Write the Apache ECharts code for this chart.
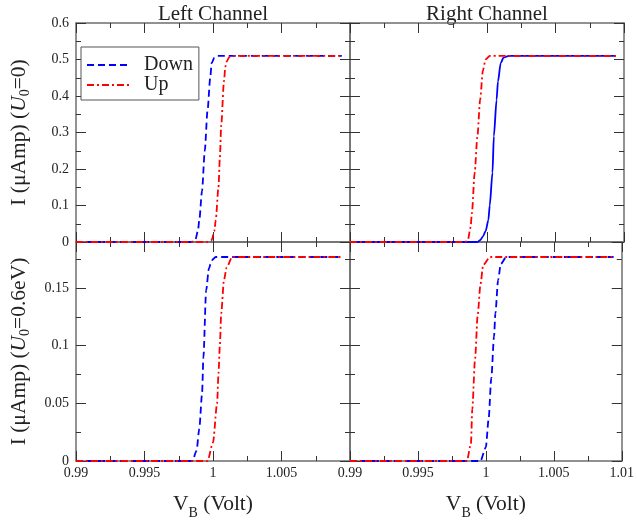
<!DOCTYPE html>
<html>
<head>
<meta charset="utf-8">
<script src="https://cdn.jsdelivr.net/npm/echarts@6/dist/echarts.min.js"></script>
<style>
  html, body { margin: 0; padding: 0; background: #fff; }
  #main { width: 637px; height: 521px; }
</style>
</head>
<body>
<div id="main"></div>
<script>
// axis ranges and ticks
const xMin = 0.99, xMax = 1.01, xMajor = 0.005, xMinor = 0.0025;
const yTopMax = 0.6, yTopMajor = 0.1, yTopMinor = 0.05;
const yBotMax = 0.19, yBotMajor = 0.05, yBotMinor = 0.025;

// top-left: Left Channel, U0 = 0
const tlDownX = [0.99, 0.9984, 0.9987, 0.9989, 0.9990, 0.9992, 0.9994, 0.9996, 0.9998, 0.9999, 1.0001, 1.0003, 1.0094];
const tlDownY = [0, 0, 0.005, 0.03, 0.06, 0.14, 0.25, 0.36, 0.45, 0.49, 0.505, 0.51, 0.51];
const tlUpX = [0.99, 0.9996, 0.9999, 1.0001, 1.0002, 1.0004, 1.0005, 1.0006, 1.0008, 1.0009, 1.0010, 1.0012, 1.0014, 1.0094];
const tlUpY = [0, 0, 0.005, 0.03, 0.06, 0.15, 0.23, 0.32, 0.44, 0.48, 0.495, 0.507, 0.51, 0.51];

// top-right: Right Channel, U0 = 0
const trDownX = [0.99, 0.9993, 0.9995, 0.9997, 0.9999, 1.0001, 1.0002, 1.0004, 1.0005, 1.0007, 1.0008, 1.0010, 1.0012, 1.0016, 1.0094];
const trDownY = [0, 0, 0.005, 0.015, 0.03, 0.06, 0.1, 0.19, 0.29, 0.39, 0.44, 0.49, 0.505, 0.51, 0.51];
const trUpX = [0.99, 0.9984, 0.9986, 0.9988, 0.9989, 0.9991, 0.9993, 0.9995, 0.9997, 0.9999, 1.0002, 1.0094];
const trUpY = [0, 0, 0.005, 0.04, 0.08, 0.19, 0.29, 0.39, 0.47, 0.5, 0.51, 0.51];

// bottom-left: Left Channel, U0 = 0.6eV
const blDownX = [0.99, 0.9985, 0.9988, 0.9990, 0.9992, 0.9993, 0.9995, 0.9997, 0.9999, 1.0002, 1.0094];
const blDownY = [0, 0, 0.009, 0.028, 0.058, 0.09, 0.148, 0.167, 0.174, 0.177, 0.177];
const blUpX = [0.99, 0.9996, 1.0000, 1.0003, 1.0004, 1.0005, 1.0006, 1.0008, 1.0010, 1.0014, 1.0094];
const blUpY = [0, 0, 0.016, 0.05, 0.076, 0.1, 0.128, 0.157, 0.168, 0.177, 0.177];

// bottom-right: Right Channel, U0 = 0.6eV
const brDownX = [0.99, 0.9996, 1.0000, 1.0002, 1.0004, 1.0006, 1.0007, 1.0009, 1.0011, 1.0015, 1.0094];
const brDownY = [0, 0, 0.012, 0.036, 0.072, 0.108, 0.128, 0.157, 0.171, 0.177, 0.177];
const brUpX = [0.99, 0.9986, 0.9989, 0.9990, 0.9992, 0.9994, 0.9996, 0.9998, 1.0003, 1.0094];
const brUpY = [0, 0, 0.015, 0.045, 0.088, 0.127, 0.153, 0.17, 0.177, 0.177];

const serif = "'Liberation Serif', 'DejaVu Serif', serif";
const frameColor = '#6e6e6e';
const tickColor = '#333';
const blue = '#0000ff', red = '#ff0000';
const dashed = [7, 4], dashDot = [7, 3, 2, 3];

const grids = [
  { left: 76, top: 23, width: 274, height: 219 },
  { left: 350, top: 23, width: 274, height: 219 },
  { left: 76, top: 242, width: 274, height: 219 },
  { left: 350, top: 242, width: 274, height: 219 }
];

const xAxes = [], yAxes = [];

function fmt(v) { return String(+v.toFixed(4)); }

// major axis (line + long ticks + labels) plus a minor axis (short ticks) on same side
function addAxes(list, gi, pos, min, max, major, minor, label, extra) {
  const idx = list.length;
  list.push(Object.assign({
    type: 'value', gridIndex: gi, position: pos, min: min, max: max, interval: major,
    axisLine: { show: true, onZero: false, lineStyle: { color: frameColor, width: 1.5 } },
    axisTick: { show: true, inside: true, length: 10, lineStyle: { color: tickColor, width: 1 } },
    axisLabel: label
      ? Object.assign({ show: true, fontFamily: serif, fontSize: 14, color: '#222', formatter: fmt }, label)
      : { show: false },
    splitLine: { show: false }
  }, extra || {}));
  list.push({
    type: 'value', gridIndex: gi, position: pos, min: min, max: max, interval: minor,
    axisLine: { show: false, onZero: false },
    axisTick: { show: true, inside: true, length: 5, lineStyle: { color: tickColor, width: 1 } },
    axisLabel: { show: false },
    splitLine: { show: false }
  });
  return idx;
}

const xName = {
  name: '{m|V}{s|B}{m| (Volt)}',
  nameLocation: 'middle',
  nameGap: 27,
  nameTextStyle: {
    color: '#222',
    rich: {
      m: { fontFamily: serif, fontSize: 21.5, lineHeight: 32, color: '#222' },
      s: { fontFamily: serif, fontSize: 14, lineHeight: 12, verticalAlign: 'bottom', color: '#222' }
    }
  }
};

function yName(txt) {
  return {
    name: '{m|I (μAmp) (}{i|U}{s|0}{m|' + txt + ')}',
    nameLocation: 'middle',
    nameRotate: 90,
    nameGap: 44,
    nameTextStyle: {
      color: '#222',
      rich: {
        m: { fontFamily: serif, fontSize: 21.5, lineHeight: 25, color: '#222' },
        i: { fontFamily: serif, fontSize: 21.5, lineHeight: 25, fontStyle: 'italic', color: '#222' },
        s: { fontFamily: serif, fontSize: 14, lineHeight: 12, verticalAlign: 'bottom', color: '#222' }
      }
    }
  };
}

const panels = [
  { top: true, left: true, yMax: yTopMax, yMajor: yTopMajor, yMinor: yTopMinor, yTitle: '=0',
    lines: [['Down', tlDownX, tlDownY, blue, dashed], ['Up', tlUpX, tlUpY, red, dashDot]] },
  { top: true, left: false, yMax: yTopMax, yMajor: yTopMajor, yMinor: yTopMinor,
    lines: [['Down', trDownX, trDownY, blue, 'solid'], ['Up', trUpX, trUpY, red, dashDot]] },
  { top: false, left: true, yMax: yBotMax, yMajor: yBotMajor, yMinor: yBotMinor, yTitle: '=0.6eV',
    lines: [['Down', blDownX, blDownY, blue, dashed], ['Up', blUpX, blUpY, red, dashDot]] },
  { top: false, left: false, yMax: yBotMax, yMajor: yBotMajor, yMinor: yBotMinor,
    lines: [['Down', brDownX, brDownY, blue, dashed], ['Up', brUpX, brUpY, red, dashDot]] }
];

const series = [];

panels.forEach(function (p, gi) {
  const xLabel = p.top ? null : { margin: 5, showMaxLabel: p.left ? false : true };
  const xi = addAxes(xAxes, gi, 'bottom', xMin, xMax, xMajor, xMinor, xLabel, p.top ? null : xName);
  addAxes(xAxes, gi, 'top', xMin, xMax, xMajor, xMinor, null, null);
  const yLabel = p.left ? { margin: 7, showMaxLabel: p.top ? true : false } : null;
  const yi = addAxes(yAxes, gi, 'left', 0, p.yMax, p.yMajor, p.yMinor, yLabel, p.left ? yName(p.yTitle) : null);
  addAxes(yAxes, gi, 'right', 0, p.yMax, p.yMajor, p.yMinor, null, null);

  p.lines.forEach(function (l) {
    series.push({
      name: l[0],
      type: 'line',
      xAxisIndex: xi,
      yAxisIndex: yi,
      data: l[1].map(function (x, k) { return [x, l[2][k]]; }),
      symbol: 'none',
      smooth: 0.25,
      smoothMonotone: 'x',
      lineStyle: { color: l[3], width: 1.8, type: l[4] },
      itemStyle: { color: l[3] },
      clip: true,
      z: 3
    });
  });
});

const chart = echarts.init(document.getElementById('main'), null, { renderer: 'canvas' });

const option = {
  animation: false,
  backgroundColor: '#fff',
  grid: grids,
  xAxis: xAxes,
  yAxis: yAxes,
  series: series,
  legend: {
    data: ['Down', 'Up'],
    left: 81,
    top: 47,
    orient: 'vertical',
    itemWidth: 44,
    itemHeight: 12,
    itemGap: 0,
    padding: [8, 6, 5, 5],
    borderColor: '#555',
    borderWidth: 1,
    backgroundColor: '#fff',
    selectedMode: false,
    itemStyle: { opacity: 0 },
    textStyle: { fontFamily: serif, fontSize: 20, lineHeight: 20, color: '#222', padding: [0, 0, 0, 8] }
  },
  graphic: [
    { type: 'text', x: 213, y: 14, style: { text: 'Left Channel', font: '21px ' + serif, fill: '#222', align: 'center', verticalAlign: 'middle' } },
    { type: 'text', x: 487, y: 14, style: { text: 'Right Channel', font: '21px ' + serif, fill: '#222', align: 'center', verticalAlign: 'middle' } }
  ]
};

option && chart.setOption(option, true);
</script>
</body>
</html>
